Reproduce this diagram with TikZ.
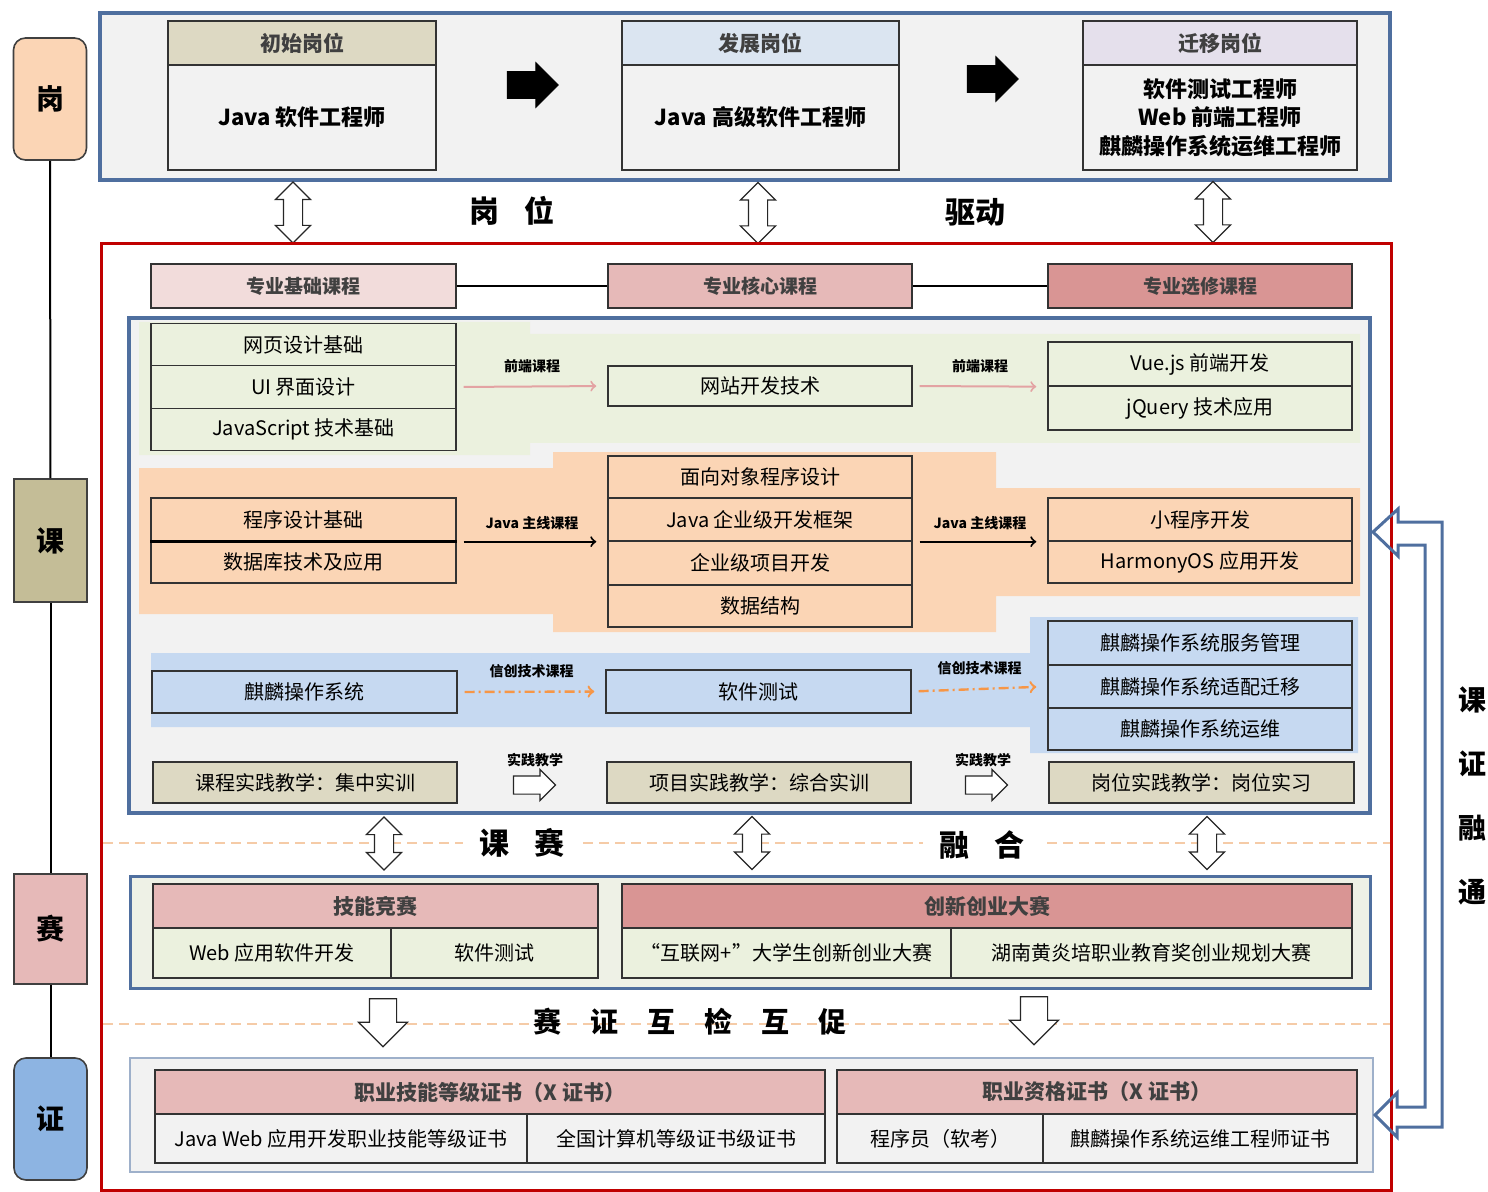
\documentclass[tikz,border=0pt]{standalone}
\usepackage{fontspec}
\setmainfont{Noto Sans CJK SC}
\usetikzlibrary{shapes.arrows}

\definecolor{frameblue}{HTML}{4F6F9F}
\definecolor{framered}{HTML}{C00000}
\definecolor{bgray}{HTML}{F2F2F2}
\definecolor{khaki}{HTML}{DDD9C3}
\definecolor{khakidark}{HTML}{C4BD97}
\definecolor{peach}{HTML}{FBD5B5}
\definecolor{gfill}{HTML}{EBF1DE}
\definecolor{bfill}{HTML}{C6D9F1}
\definecolor{lblue}{HTML}{DBE5F1}
\definecolor{lavender}{HTML}{E5E0EC}
\definecolor{pinka}{HTML}{F2DCDB}
\definecolor{pinkb}{HTML}{E6B9B8}
\definecolor{pinkc}{HTML}{D99594}
\definecolor{zblue}{HTML}{8DB4E2}
\definecolor{dashor}{HTML}{F5CBA7}
\definecolor{qdpink}{HTML}{E3A3A3}
\definecolor{xcor}{HTML}{F79646}

\begin{document}
\begin{tikzpicture}[x=0.5pt,y=-0.5pt,
  cell/.style={draw=black!80,line width=0.7pt,inner sep=0pt,font=\fontsize{10}{12}\selectfont},
  hd/.style={cell,text=black!75,font=\fontsize{10.5}{12}\selectfont\bfseries},
  colw/.style={minimum width=152.5pt},
  side/.style={draw=black!75,line width=0.8pt,minimum width=36.5pt,font=\fontsize{14}{16}\selectfont\bfseries},
  big/.style={font=\fontsize{15}{17}\selectfont\bfseries},
  tag/.style={text=black,font=\fontsize{7}{9}\selectfont\bfseries},
  blk/.style={single arrow,fill=black,draw=black,inner xsep=0pt,inner ysep=6.5pt,minimum height=25.5pt,
    minimum width=22pt,single arrow head extend=4.5pt},
  updown/.style={double arrow,rotate=90,draw=black!85,fill=white,line width=0.6pt,inner xsep=0pt,
    inner ysep=4.5pt,minimum width=17pt,double arrow head extend=4pt},
  down/.style={single arrow,rotate=-90,draw=black!85,fill=white,line width=0.6pt,inner xsep=0pt,
    inner ysep=6.5pt,minimum height=24pt,minimum width=24pt,single arrow head extend=5.5pt},
  sj/.style={single arrow,draw=black!85,fill=white,line width=0.6pt,inner xsep=0pt,inner ysep=4.25pt,
    minimum height=21pt,minimum width=15pt,single arrow head extend=3.25pt},
  dashline/.style={dashor,line width=1pt,dash pattern=on 5pt off 3pt},
  qdarr/.style={->,qdpink,line width=1pt,shorten <=3.5pt,shorten >=5.5pt},
  jarr/.style={->,black,line width=1pt,shorten <=3.5pt,shorten >=5.5pt},
  xcarr/.style={->,xcor,line width=1.2pt,dash pattern=on 5pt off 2pt on 1pt off 2pt,
    shorten <=3.5pt,shorten >=5.5pt}]
\tikzstyle{every node}=[font=\fontsize{10}{12}\selectfont]

\path[use as bounding box,fill=white] (0,0) rectangle (1488,1192);

% left column
\node[side,fill=peach,rounded corners=6pt,minimum height=61pt] (gang) at (50,99) {岗};
\node[side,fill=khakidark,minimum height=61.5pt] (ke) at (50.5,540.5) {课};
\node[side,fill=pinkb,minimum height=55pt] (sai) at (50.5,929) {赛};
\node[side,fill=zblue,rounded corners=6pt,minimum height=61pt] (zheng) at (50.5,1119) {证};
\draw[line width=1pt] (gang) -- (ke);
\draw[line width=1pt] (ke) -- (sai);
\draw[line width=1pt] (sai) -- (zheng);

% posts
\draw[frameblue,line width=2pt,fill=bgray] (100,13) rectangle (1390,180);
\node[hd,fill=khaki,minimum width=134pt,minimum height=22pt] (h1) at (302,43) {初始岗位};
\node[cell,fill=bgray,minimum width=134pt,minimum height=52.5pt,font=\fontsize{11}{13}\selectfont\bfseries] (b1) at (302,117.5) {Java 软件工程师};
\node[hd,fill=lblue,minimum width=138.5pt,minimum height=22pt] (h2) at (760.5,43) {发展岗位};
\node[cell,fill=bgray,minimum width=138.5pt,minimum height=52.5pt,font=\fontsize{11}{13}\selectfont\bfseries] (b2) at (760.5,117.5) {Java 高级软件工程师};
\node[hd,fill=lavender,minimum width=137pt,minimum height=22pt] (h3) at (1220,43) {迁移岗位};
\node[cell,fill=bgray,minimum width=137pt,minimum height=52.5pt,align=center,font=\fontsize{11}{14.25}\selectfont\bfseries] (b3) at (1220,117.5) {软件测试工程师\\Web 前端工程师\\麒麟操作系统运维工程师};
\node[blk] (ar1) at (526,85) {};
\node[blk] (ar2) at (986,79) {};

\node[updown,minimum height=30.5pt] (da1) at (293,212.5) {};
\node[updown,minimum height=30.5pt] (da2) at (758,213) {};
\node[updown,minimum height=30.5pt] (da3) at (1213,212) {};
\node[big] (gw) at (512,211) {岗\hspace{13pt}位};
\node[big] (qd) at (975,212) {驱动};

% courses
\draw[framered,line width=1.5pt] (101,244) rectangle (1391,1190);
\node[hd,fill=pinka,colw,minimum height=22pt,font=\fontsize{9.5}{11}\selectfont\bfseries] (zj1) at (303.5,286) {专业基础课程};
\node[hd,fill=pinkb,minimum width=152pt,minimum height=22pt,font=\fontsize{9.5}{11}\selectfont\bfseries] (zj2) at (760,286) {专业核心课程};
\node[hd,fill=pinkc,minimum width=152pt,minimum height=22pt,font=\fontsize{9.5}{11}\selectfont\bfseries] (zj3) at (1200,286) {专业选修课程};
\draw[line width=1pt] (zj1) -- (zj2);
\draw[line width=1pt] (zj2) -- (zj3);

\draw[frameblue,line width=2pt,fill=bgray] (129,318) rectangle (1370,813);
\fill[gfill] (139,322) -- (530,322) -- (530,334) -- (1360,334) -- (1360,443) -- (530,443)
  -- (530,455) -- (139,455) -- cycle;
\fill[peach] (139,468) -- (553,468) -- (553,452) -- (996,452) -- (996,488) -- (1360,488)
  -- (1360,596) -- (996,596) -- (996,632) -- (553,632) -- (553,614) -- (139,614) -- cycle;
\fill[bfill] (151,653) -- (1030,653) -- (1030,617) -- (1358,617) -- (1358,753) -- (1030,753)
  -- (1030,727) -- (151,727) -- cycle;

% front end line
\node[cell,fill=gfill,colw,minimum height=21.25pt] (g1) at (303.5,344.5) {网页设计基础};
\node[cell,fill=gfill,colw,minimum height=21.25pt] (g2) at (303.5,387) {UI 界面设计};
\node[cell,fill=gfill,colw,minimum height=21.25pt] (g3) at (303.5,429.5) {JavaScript 技术基础};
\node[cell,fill=gfill,minimum width=152pt,minimum height=20pt] (wz) at (760,386) {网站开发技术};
\node[cell,fill=gfill,minimum width=152pt,minimum height=22pt] (v1) at (1200,364) {Vue.js 前端开发};
\node[cell,fill=gfill,minimum width=152pt,minimum height=22pt] (v2) at (1200,408) {jQuery 技术应用};
\draw[qdarr] (g2.east) -- (wz.west) node[midway,above=3pt,tag] {前端课程};
\draw[qdarr] (wz.east) -- (v1.south west) node[midway,above=3pt,tag] {前端课程};

% java line
\node[cell,fill=peach,colw,minimum height=21.5pt] (c1) at (303.5,519.5) {程序设计基础};
\node[cell,fill=peach,colw,minimum height=21pt] (c2) at (303.5,562) {数据库技术及应用};
\draw[line width=1.3pt] (c1.south west) -- (c1.south east);
\node[cell,fill=peach,minimum width=152pt,minimum height=21pt] (m1) at (760,477) {面向对象程序设计};
\node[cell,fill=peach,minimum width=152pt,minimum height=21.5pt] (m2) at (760,519.5) {Java 企业级开发框架};
\node[cell,fill=peach,minimum width=152pt,minimum height=22pt] (m3) at (760,563) {企业级项目开发};
\node[cell,fill=peach,minimum width=152pt,minimum height=21pt] (m4) at (760,606) {数据结构};
\node[cell,fill=peach,minimum width=152pt,minimum height=21.5pt] (r1) at (1200,519.5) {小程序开发};
\node[cell,fill=peach,minimum width=152pt,minimum height=21pt] (r2) at (1200,562) {HarmonyOS 应用开发};
\draw[jarr] (c1.south east) -- (m2.south west) node[midway,above=2pt,tag] {Java 主线课程};
\draw[jarr] (m2.south east) -- (r1.south west) node[midway,above=2pt,tag] {Java 主线课程};

% xinchuang line
\node[cell,fill=bfill,colw,minimum height=21pt] (q1) at (304.5,692) {麒麟操作系统};
\node[cell,fill=bfill,colw,minimum height=21.5pt] (rc) at (758.5,691.5) {软件测试};
\node[cell,fill=bfill,minimum width=152pt,minimum height=22pt] (k1) at (1200,643) {麒麟操作系统服务管理};
\node[cell,fill=bfill,minimum width=152pt,minimum height=21.5pt] (k2) at (1200,686.5) {麒麟操作系统适配迁移};
\node[cell,fill=bfill,minimum width=152pt,minimum height=21pt] (k3) at (1200,729) {麒麟操作系统运维};
\draw[xcarr] (q1.east) -- (rc.west) node[midway,above=3pt,tag] {信创技术课程};
\draw[xcarr] (rc.east) -- (k2.west) node[midway,above=3pt,tag] {信创技术课程};

% practice
\node[cell,fill=khaki,minimum width=152pt,minimum height=20.5pt] (s1) at (305,782.5) {课程实践教学：集中实训};
\node[cell,fill=khaki,minimum width=152pt,minimum height=20.5pt] (s2) at (759,782.5) {项目实践教学：综合实训};
\node[cell,fill=khaki,colw,minimum height=20.5pt] (s3) at (1201.5,782.5) {岗位实践教学：岗位实习};
\node[sj] (sa1) at (530,785) {};
\node[sj] (sa2) at (982,785) {};
\node[tag] (sl1) at (535,760) {实践教学};
\node[tag] (sl2) at (983,760) {实践教学};

% course - competition
\draw[dashline] (103,843) -- (1390,843);
\node[big,fill=white,inner xsep=8pt] (ks) at (522,843) {课\hspace{13pt}赛};
\node[big,fill=white,inner xsep=8pt] (rh) at (982,845) {融\hspace{13pt}合};
\node[updown,minimum height=26.5pt] (da4) at (384,843.5) {};
\node[updown,minimum height=26.5pt] (da5) at (752,843) {};
\node[updown,minimum height=26.5pt] (da6) at (1207,843) {};

% competitions
\draw[frameblue,line width=1.5pt,fill=gfill!60!bgray] (130,876) rectangle (1370,988);
\node[hd,fill=pinkb,minimum width=222.5pt,minimum height=22pt] (jn) at (375.5,906) {技能竞赛};
\node[cell,fill=gfill,minimum width=119pt,minimum height=25pt] (w1) at (272,953) {Web 应用软件开发};
\node[cell,fill=gfill,minimum width=103.5pt,minimum height=25pt] (w2) at (494.5,953) {软件测试};
\node[hd,fill=pinkc,minimum width=365pt,minimum height=22pt] (cx) at (987,906) {创新创业大赛};
\node[cell,fill=gfill,minimum width=164.5pt,minimum height=25pt] (hl) at (786.5,953) {“互联网+”大学生创新创业大赛};
\node[cell,fill=gfill,minimum width=200.5pt,minimum height=25pt] (hn) at (1151.5,953) {湖南黄炎培职业教育奖创业规划大赛};

% competition - certificate
\draw[dashline] (103,1024) -- (1390,1024);
\node[down] (dn1) at (383,1016) {};
\node[down] (dn2) at (1034,1014) {};
\node[font=\fontsize{14}{16}\selectfont\bfseries] (szhh) at (690,1022)
  {赛\hspace{14.5pt}证\hspace{14.5pt}互\hspace{14.5pt}检\hspace{14.5pt}互\hspace{14.5pt}促};

% certificates
\draw[frameblue!55,line width=1pt,fill=bgray] (130,1058) rectangle (1373,1172);
\node[hd,fill=pinkb,minimum width=335pt,minimum height=22pt] (zy1) at (490,1092) {职业技能等级证书（X 证书）};
\node[cell,fill=bgray,minimum width=186pt,minimum height=24.5pt] (zc1) at (341,1138.5) {Java Web 应用开发职业技能等级证书};
\node[cell,fill=bgray,minimum width=149pt,minimum height=24.5pt] (zc2) at (676,1138.5) {全国计算机等级证书级证书};
\node[hd,fill=pinkb,minimum width=260pt,minimum height=22pt] (zy2) at (1097,1092) {职业资格证书（X 证书）};
\node[cell,fill=bgray,minimum width=103pt,minimum height=24.5pt] (zc3) at (940,1138.5) {程序员（软考）};
\node[cell,fill=bgray,minimum width=157pt,minimum height=24.5pt] (zc4) at (1200,1138.5) {麒麟操作系统运维工程师证书};

% course - certificate link
\draw[frameblue,line width=1.5pt] (1398,522) -- (1442,522) -- (1442,1127) -- (1397,1127)
  -- (1397,1137) -- (1375,1115) -- (1397,1093) -- (1397,1107) -- (1425,1107) -- (1425,545)
  -- (1398,545) -- (1398,556) -- (1373,532) -- (1398,509) -- cycle;
\node[align=center,font=\fontsize{14}{32}\selectfont\bfseries] (kzrt) at (1472,796) {课\\证\\融\\通};

\end{tikzpicture}
\end{document}
